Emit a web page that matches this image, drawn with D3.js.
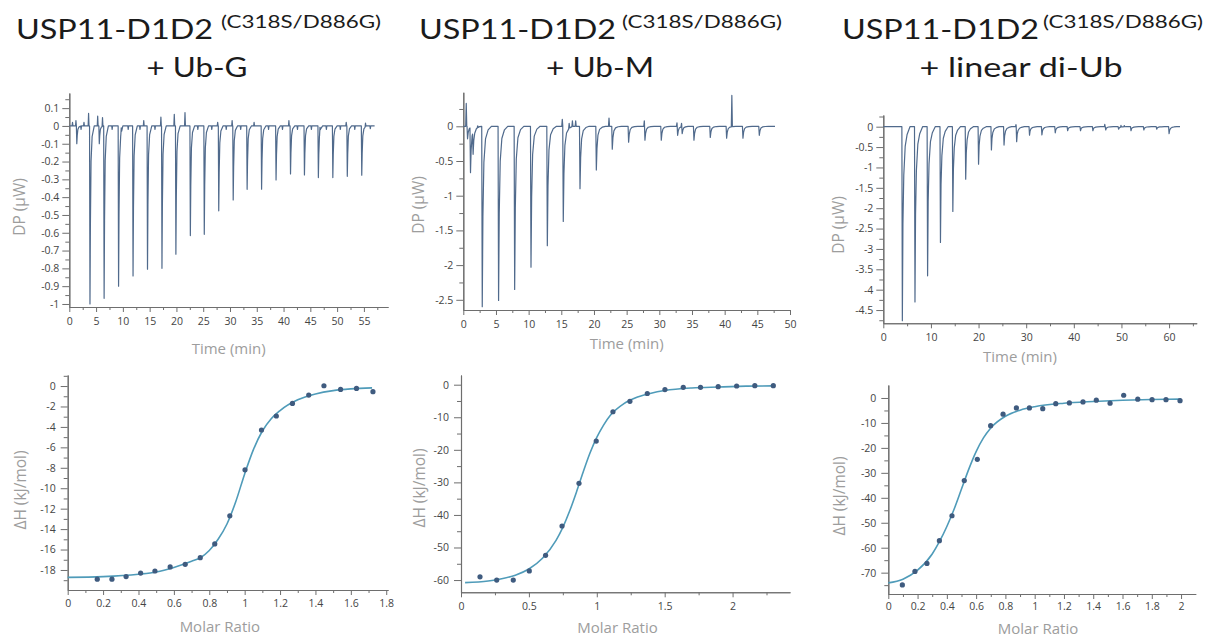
<!DOCTYPE html>
<html><head><meta charset="utf-8">
<script src="https://cdn.jsdelivr.net/npm/d3@7"></script>
<style>
html,body{margin:0;padding:0;background:#fff;}
svg{display:block;font-family:"Open Sans","Noto Sans",sans-serif;}
</style></head><body>
<svg id="c" width="1208" height="637"></svg>
<script>
// ---------- Titles ----------
const titleMain = "USP11-D1D2";
const titleSup = "(C318S/D886G)";
const titleLigands = ["+ Ub-G", "+ Ub-M", "+ linear di-Ub"];

// ---------- Thermograms (DP, µW vs time, min) ----------
// Panel A: + Ub-G
const gInjTime = [1.4, 3.86, 5.6, 6.5, 9.2, 11.9, 14.6, 17.3, 19.9, 22.6, 25.2, 27.9, 30.6, 33.2, 35.9, 38.6, 41.3, 43.9, 46.5, 49.2, 51.9, 54.6];
const gInjDP   = [-0.1, -1.0, -0.1, -0.968, -0.9, -0.843, -0.805, -0.8, -0.72, -0.616, -0.609, -0.477, -0.416, -0.356, -0.355, -0.303, -0.27, -0.275, -0.29, -0.29, -0.283, -0.277];
const gSpikeTime = [0.6, 1.24, 2.2, 2.74, 3.6, 5.3, 6.2, 8.0, 9.7, 11.0, 13.2, 13.9, 16.0, 17.1, 19.6, 21.6, 24.0, 26.6, 27.7, 29.3, 30.4, 32.0, 34.5, 37.2, 39.8, 41.0, 42.6, 45.2, 46.8, 48.0, 50.6, 51.7, 53.3, 55.3, 56.2];
const gSpikeDP   = [0.02, 0.03, -0.02, 0.02, 0.07, 0.055, 0.05, -0.02, 0.03, -0.02, -0.02, 0.03, -0.02, 0.05, 0.065, 0.075, -0.02, -0.02, 0.02, -0.02, 0.03, -0.02, 0.02, -0.02, -0.02, 0.03, -0.02, -0.02, 0.03, -0.02, -0.02, 0.02, -0.02, 0.02, -0.015];
const gTimeRange = [0, 57];

// Panel B: + Ub-M
const mInjTime = [0.65, 1.1, 1.5, 2.9, 5.4, 7.86, 10.36, 12.86, 15.3, 17.86, 20.36, 22.8, 25.3, 27.8, 30.3, 32.8, 33.5, 35.3, 37.8, 40.3, 42.8, 45.3];
const mInjDP   = [-0.18, -0.65, -0.32, -2.6, -2.51, -2.35, -2.03, -1.72, -1.37, -0.9, -0.63, -0.33, -0.23, -0.2, -0.2, -0.13, -0.1, -0.2, -0.16, -0.17, -0.17, -0.13];
const mSpikeTime = [0.45, 2.2, 15.15, 16.2, 16.7, 17.2, 22.3, 27.7, 32.7, 33.4, 41.1];
const mSpikeDP   = [0.33, 0.03, 0.1, 0.07, 0.08, 0.08, 0.12, 0.08, 0.05, 0.05, 0.45];
const mTimeRange = [0, 47.7];

// Panel C: + linear di-Ub
const lInjTime = [4.0, 6.65, 9.3, 12.0, 14.6, 17.3, 20.0, 22.7, 25.35, 28.0, 30.7, 33.3, 36.1, 38.7, 41.4, 44.0, 46.7, 49.4, 52.0, 54.7, 57.4, 60.0];
const lInjDP   = [-4.76, -4.3, -3.66, -2.84, -2.08, -1.29, -0.92, -0.57, -0.45, -0.37, -0.21, -0.2, -0.15, -0.1, -0.1, -0.1, -0.08, -0.06, -0.1, -0.08, -0.06, -0.17];
const lSpikeTime = [27.85, 46.5, 49.9, 50.6];
const lSpikeDP   = [0.05, 0.06, 0.04, 0.03];
const lTimeRange = [0, 62.3];

// Peak profiles (time offset in min, fraction of peak)
const gPeakShape = [[-0.08, 0], [0, 1], [0.08, 0.55], [0.2, 0.2], [0.4, 0.06], [0.8, 0]];
const mPeakShape = [[-0.08, 0], [0, 1], [0.1, 0.5], [0.25, 0.2], [0.5, 0.07], [0.9, 0.02], [1.4, 0]];
const lPeakShape = [[-0.1, 0], [0, 1], [0.12, 0.5], [0.3, 0.25], [0.6, 0.1], [1.0, 0.04], [1.6, 0]];
const spikeShape = [[-0.08, 0], [0, 1], [0.08, 0]];

// ---------- Integrated heats (ΔH, kJ/mol vs molar ratio) ----------
const gRatio = [0.167, 0.25, 0.33, 0.412, 0.493, 0.579, 0.664, 0.749, 0.831, 0.916, 1.002, 1.095, 1.179, 1.27, 1.362, 1.448, 1.542, 1.632, 1.725];
const gDH    = [-18.9, -18.9, -18.65, -18.3, -18.1, -17.7, -17.45, -16.8, -15.45, -12.7, -8.2, -4.3, -2.93, -1.7, -0.88, 0.03, -0.33, -0.23, -0.55];
const gFitRatio = [0, 0.2, 0.4, 0.5, 0.6, 0.7, 0.75, 0.8, 0.85, 0.9, 0.95, 1.0, 1.05, 1.1, 1.15, 1.2, 1.3, 1.4, 1.5, 1.6, 1.72];
const gFitDH    = [-18.72, -18.65, -18.42, -18.2, -17.75, -17.15, -16.8, -16.1, -15.0, -13.5, -11.3, -8.6, -6.2, -4.4, -3.2, -2.4, -1.35, -0.78, -0.45, -0.28, -0.18];

const mRatio = [0.14, 0.263, 0.385, 0.503, 0.623, 0.744, 0.869, 0.996, 1.119, 1.244, 1.372, 1.502, 1.637, 1.764, 1.894, 2.03, 2.164, 2.3];
const mDH    = [-59.0, -60.0, -60.0, -57.2, -52.4, -43.4, -30.3, -17.3, -8.3, -5.1, -2.7, -1.5, -0.8, -0.8, -0.6, -0.4, -0.3, -0.3];
const mFitRatio = [0.03, 0.2, 0.3, 0.4, 0.5, 0.6, 0.7, 0.75, 0.8, 0.85, 0.9, 0.95, 1.0, 1.05, 1.1, 1.2, 1.3, 1.4, 1.5, 1.7, 1.9, 2.1, 2.3];
const mFitDH    = [-60.8, -60.3, -59.6, -58.5, -56.6, -53.3, -47.8, -43.8, -38.8, -33.0, -26.8, -21.0, -16.2, -12.4, -9.4, -5.8, -3.8, -2.6, -1.8, -1.0, -0.7, -0.45, -0.35];

const lRatio = [0.096, 0.182, 0.264, 0.349, 0.435, 0.519, 0.608, 0.699, 0.784, 0.875, 0.964, 1.055, 1.144, 1.237, 1.33, 1.421, 1.515, 1.608, 1.704, 1.802, 1.897, 1.993];
const lDH    = [-74.9, -69.5, -66.3, -57.2, -47.2, -33.1, -24.6, -11.1, -6.5, -4.0, -4.0, -4.3, -2.3, -2.0, -1.6, -0.9, -2.1, 1.1, -0.5, -0.7, -0.7, -1.1];
const lFitRatio = [0, 0.1, 0.2, 0.3, 0.35, 0.4, 0.45, 0.5, 0.55, 0.6, 0.65, 0.7, 0.8, 0.9, 1.0, 1.2, 1.4, 1.6, 1.8, 2.0];
const lFitDH    = [-74.1, -72.6, -69.0, -62.5, -57.5, -51.5, -44.5, -36.5, -28.5, -21.5, -16.0, -12.0, -7.3, -4.9, -3.5, -2.1, -1.4, -0.9, -0.6, -0.45];

// ---------- Tick values ----------
const gTimeTicks = d3.range(0, 56, 5), gTimeMinor = d3.range(2.5, 59, 5);
const gDPTicks = d3.range(-10, 2).map(v => v / 10), gDPMinor = d3.range(-19, 4, 2).map(v => v / 20);
const mTimeTicks = d3.range(0, 51, 5), mTimeMinor = d3.range(2.5, 50, 5);
const mDPTicks = [-2.5, -2, -1.5, -1, -0.5, 0], mDPMinor = [-2.25, -1.75, -1.25, -0.75, -0.25, 0.25];
const lTimeTicks = d3.range(0, 61, 10), lTimeMinor = d3.range(5, 66, 10);
const lDPTicks = d3.range(-9, 1).map(v => v / 2), lDPMinor = d3.range(-19, 2, 2).map(v => v / 4);
const gRatioTicks = d3.range(0, 10).map(v => v / 5), gRatioMinor = d3.range(1, 19, 2).map(v => v / 10);
const gDHTicks = d3.range(-18, 1, 2), gDHMinor = d3.range(-19, 2, 2);
const mRatioTicks = [0, 0.5, 1, 1.5, 2], mRatioMinor = [0.25, 0.75, 1.25, 1.75, 2.25];
const mDHTicks = d3.range(-60, 1, 10), mDHMinor = d3.range(-55, 0, 10);
const lRatioTicks = d3.range(0, 11).map(v => v / 5), lRatioMinor = d3.range(1, 21, 2).map(v => v / 10);
const lDHTicks = d3.range(-70, 1, 10), lDHMinor = d3.range(-75, 0, 10);

// ---------- Drawing ----------
const svg = d3.select('#c');
const fmt = v => String(+v.toFixed(2));
const AXIS = '#6e6e6e', TICKTXT = '#454545', LABEL = '#9d9d9d';
const TRACE = '#506a8c', FIT = '#4f9bb9', DOT = '#3f5b7f';

function panel(c) {
  const x = d3.scaleLinear().domain(c.xDomain).range([c.left, c.right]);
  const y = d3.scaleLinear().domain(c.yDomain).range([c.bottom, c.top]);
  const g = svg.append('g');
  const ax = [
    g.append('g').attr('transform', `translate(0,${c.bottom})`)
      .call(d3.axisBottom(x).tickValues(c.xMinor).tickSize(3).tickFormat('').tickSizeOuter(0)),
    g.append('g').attr('transform', `translate(0,${c.bottom})`)
      .call(d3.axisBottom(x).tickValues(c.xTicks).tickSize(5).tickPadding(c.xPad || 6).tickFormat(fmt).tickSizeOuter(0)),
    g.append('g').attr('transform', `translate(${c.left},0)`)
      .call(d3.axisLeft(y).tickValues(c.yMinor).tickSize(4).tickFormat('').tickSizeOuter(0)),
    g.append('g').attr('transform', `translate(${c.left},0)`)
      .call(d3.axisLeft(y).tickValues(c.yTicks).tickSize(7).tickPadding(c.yPad || 3).tickFormat(fmt).tickSizeOuter(0))
  ];
  ax.forEach(a => {
    a.select('.domain').attr('stroke', AXIS).attr('stroke-width', 1.1);
    a.selectAll('.tick line').attr('stroke', AXIS).attr('stroke-width', 1);
    a.selectAll('.tick text').attr('fill', TICKTXT).attr('font-size', 10.5)
      .attr('font-family', '"Open Sans","Noto Sans",sans-serif');
  });
  g.append('text').attr('x', (c.left + c.right) / 2 + (c.xLabDx || 0)).attr('y', c.xLabY)
    .attr('text-anchor', 'middle').attr('fill', LABEL).attr('font-size', 15).text(c.xLabel);
  g.append('text').attr('transform', `translate(${c.yLabX},${c.yLabY}) rotate(-90)`)
    .attr('text-anchor', 'middle').attr('fill', LABEL).attr('font-size', 15.5).text(c.yLabel);
  return { g, x, y };
}

function interpShape(shape, dt) {
  if (dt <= shape[0][0] || dt >= shape[shape.length - 1][0]) return 0;
  for (let i = 1; i < shape.length; i++) {
    if (dt <= shape[i][0]) {
      const [t0, f0] = shape[i - 1], [t1, f1] = shape[i];
      return f0 + (f1 - f0) * (dt - t0) / (t1 - t0);
    }
  }
  return 0;
}

function buildTrace(injT, injV, shape, spT, spV, range) {
  const events = injT.map((t, i) => ({ t, v: injV[i], s: shape }))
    .concat(spT.map((t, i) => ({ t, v: spV[i], s: spikeShape })));
  let knots = [range[0], range[1]];
  events.forEach(e => e.s.forEach(p => knots.push(e.t + p[0])));
  knots = Array.from(new Set(knots.map(k => +k.toFixed(4)))).filter(k => k >= range[0] && k <= range[1]).sort((a, b) => a - b);
  return knots.map(k => [k, d3.sum(events, e => e.v * interpShape(e.s, k - e.t))]);
}

function drawTrace(p, pts) {
  p.g.append('path').datum(pts).attr('fill', 'none').attr('stroke', TRACE).attr('stroke-width', 1.2)
    .attr('stroke-linejoin', 'round')
    .attr('d', d3.line().x(d => p.x(d[0])).y(d => p.y(d[1])));
}

function drawBinding(p, rx, ry, fx, fy) {
  p.g.append('path').datum(fx.map((v, i) => [v, fy[i]])).attr('fill', 'none').attr('stroke', FIT)
    .attr('stroke-width', 1.6)
    .attr('d', d3.line().curve(d3.curveMonotoneX).x(d => p.x(d[0])).y(d => p.y(d[1])));
  p.g.selectAll('circle.pt').data(rx.map((v, i) => [v, ry[i]])).enter().append('circle')
    .attr('cx', d => p.x(d[0])).attr('cy', d => p.y(d[1])).attr('r', 2.6).attr('fill', DOT);
}

// Top row
const pA = panel({ left: 69.3, right: 388, top: 93, bottom: 307, xDomain: [0, 59.5], yDomain: [-1.017, 0.185],
  xTicks: gTimeTicks, xMinor: gTimeMinor, yTicks: gDPTicks, yMinor: gDPMinor,
  xLabel: 'Time (min)', xLabY: 354, yLabel: 'DP (\u00b5W)', yLabX: 25, yLabY: 207 });
drawTrace(pA, buildTrace(gInjTime, gInjDP, gPeakShape, gSpikeTime, gSpikeDP, gTimeRange));

const pB = panel({ left: 463.3, right: 790, top: 92.3, bottom: 310, xDomain: [0, 50], yDomain: [-2.647, 0.49],
  xTicks: mTimeTicks, xMinor: mTimeMinor, yTicks: mDPTicks, yMinor: mDPMinor,
  xLabel: 'Time (min)', xLabY: 349, yLabel: 'DP (\u00b5W)', yLabX: 424, yLabY: 205 });
drawTrace(pB, buildTrace(mInjTime, mInjDP, mPeakShape, mSpikeTime, mSpikeDP, mTimeRange));

const pC = panel({ left: 883.3, right: 1196.7, top: 115, bottom: 323.3, xDomain: [0, 65.8], yDomain: [-4.825, 0.287],
  xTicks: lTimeTicks, xMinor: lTimeMinor, yTicks: lDPTicks, yMinor: lDPMinor, xPad: 5,
  xLabel: 'Time (min)', xLabY: 362, xLabDx: -20, yLabel: 'DP (\u00b5W)', yLabX: 844, yLabY: 225 });
drawTrace(pC, buildTrace(lInjTime, lInjDP, lPeakShape, lSpikeTime, lSpikeDP, lTimeRange));

// Bottom row
const pD = panel({ left: 67.7, right: 388, top: 375, bottom: 590, xDomain: [0, 1.81], yDomain: [-19.96, 1.08],
  xTicks: gRatioTicks, xMinor: gRatioMinor, yTicks: gDHTicks, yMinor: gDHMinor, yPad: 5, xPad: 5,
  xLabel: 'Molar Ratio', xLabY: 632, xLabDx: -8, yLabel: '\u0394H (kJ/mol)', yLabX: 26, yLabY: 490 });
drawBinding(pD, gRatio, gDH, gFitRatio, gFitDH);

const pE = panel({ left: 461, right: 790, top: 375, bottom: 592.3, xDomain: [0, 2.423], yDomain: [-63.76, 2.98],
  xTicks: mRatioTicks, xMinor: mRatioMinor, yTicks: mDHTicks, yMinor: mDHMinor, yPad: 5, xPad: 5,
  xLabel: 'Molar Ratio', xLabY: 633, xLabDx: -8, yLabel: '\u0394H (kJ/mol)', yLabX: 425, yLabY: 488 });
drawBinding(pE, mRatio, mDH, mFitRatio, mFitDH);

const pF = panel({ left: 888.3, right: 1195.7, top: 385, bottom: 594, xDomain: [0, 2.1], yDomain: [-78.55, 5.2],
  xTicks: lRatioTicks, xMinor: lRatioMinor, yTicks: lDHTicks, yMinor: lDHMinor, yPad: 5, xPad: 4,
  xLabel: 'Molar Ratio', xLabY: 634, xLabDx: -4, yLabel: '\u0394H (kJ/mol)', yLabX: 845, yLabY: 496 });
drawBinding(pF, lRatio, lDH, lFitRatio, lFitDH);

// Titles
const titlePos = [
  { mainX: 16, supX: 221, l2cx: 197, l2w: 101 },
  { mainX: 419, supX: 622, l2cx: 600, l2w: 108 },
  { mainX: 842, supX: 1043, l2cx: 1021, l2w: 203 }
];
titlePos.forEach((p, i) => {
  const t = svg.append('g').attr('fill', '#1b1b1b').attr('font-family', 'Lato,"Open Sans",sans-serif');
  t.append('text').attr('x', p.mainX).attr('y', 39).attr('font-size', 27)
    .attr('textLength', 197).attr('lengthAdjust', 'spacingAndGlyphs').text(titleMain);
  t.append('text').attr('x', p.supX).attr('y', 28).attr('font-size', 17)
    .attr('textLength', 160).attr('lengthAdjust', 'spacingAndGlyphs').text(titleSup);
  t.append('text').attr('x', p.l2cx - p.l2w / 2).attr('y', 77).attr('font-size', 27)
    .attr('textLength', p.l2w).attr('lengthAdjust', 'spacingAndGlyphs').text(titleLigands[i]);
});
</script></body></html>
